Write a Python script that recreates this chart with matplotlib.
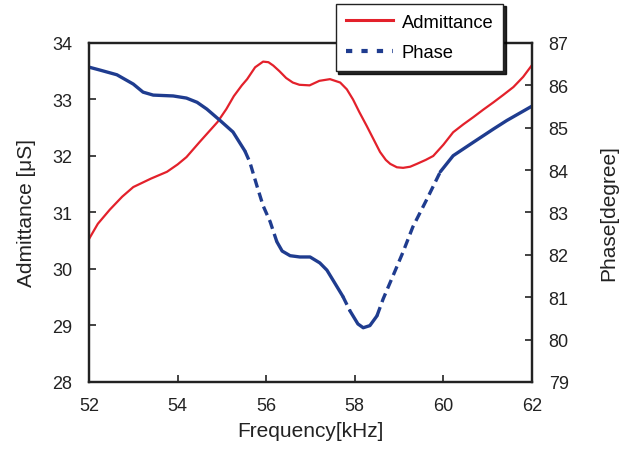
import matplotlib
matplotlib.use("Agg")
import matplotlib.pyplot as plt
from matplotlib.lines import Line2D
import numpy as np

plt.rcParams['font.family'] = ['Liberation Sans', 'DejaVu Sans']

# Admittance [uS] vs frequency [kHz]
adm_freq = [52.0, 52.2, 52.47, 52.75, 53.0, 53.4, 53.76, 54.0, 54.2, 54.5, 54.9, 55.1, 55.27,
            55.45, 55.57, 55.75, 55.93, 56.05, 56.16, 56.3, 56.45, 56.6, 56.75, 56.98,
            57.2, 57.44, 57.67, 57.82, 57.96, 58.1, 58.27, 58.42, 58.57, 58.7,
            58.8, 58.95, 59.09, 59.25, 59.4, 59.6, 59.77, 60.0, 60.22, 60.45, 60.68,
            60.9, 61.13, 61.35, 61.58, 61.8, 62.0]
adm_vals = [30.53, 30.8, 31.05, 31.28, 31.45, 31.6, 31.72, 31.85, 31.98, 32.25, 32.6, 32.83, 33.06,
            33.25, 33.36, 33.57, 33.67, 33.66, 33.6, 33.5, 33.38, 33.3, 33.26, 33.25,
            33.33, 33.36, 33.3, 33.18, 33.0, 32.78, 32.53, 32.3, 32.07, 31.93,
            31.86, 31.8, 31.79, 31.81, 31.86, 31.93, 32.0, 32.2, 32.42, 32.56, 32.69,
            32.82, 32.95, 33.08, 33.22, 33.4, 33.61]

# Phase [degree] vs frequency [kHz]
ph_freq = [52.0, 52.25, 52.63, 53.0, 53.22, 53.45, 53.9, 54.2, 54.44, 54.66, 54.96,
           55.25, 55.52, 55.63, 55.79, 55.93, 56.09, 56.24, 56.36, 56.54, 56.76, 56.99,
           57.21, 57.37, 57.51, 57.73, 57.89, 58.07, 58.19, 58.34, 58.50, 58.64,
           58.86, 59.09, 59.31, 59.63, 59.93, 60.22, 60.68, 61.13, 61.43, 62.0]
ph_vals = [86.43, 86.36, 86.25, 86.03, 85.84, 85.77, 85.75, 85.70, 85.6, 85.44, 85.17,
           84.90, 84.45, 84.19, 83.63, 83.16, 82.78, 82.31, 82.09, 81.98, 81.95, 81.95,
           81.81, 81.64, 81.40, 81.02, 80.68, 80.37, 80.28, 80.33, 80.56, 80.96,
           81.50, 82.07, 82.66, 83.32, 83.96, 84.34, 84.66, 84.97, 85.17, 85.51]

x_ticks = [52, 54, 56, 58, 60, 62]
left_ticks = [28, 29, 30, 31, 32, 33, 34]
right_ticks = [79, 80, 81, 82, 83, 84, 85, 86, 87]

RED = '#e3212b'
BLUE = '#1f3c8f'
INK = '#222222'

fig = plt.figure(figsize=(6.32, 4.52), dpi=100)
ax = fig.add_axes([0.1408, 0.1527, 0.701, 0.75])
ax2 = ax.twinx()

ax.plot(adm_freq, adm_vals, color=RED, lw=1.6, zorder=3)

# Phase: steep parts appear dashed, flat parts solid (as in source rendering)
fx = np.array(ph_freq)
fy = np.array(ph_vals)
slope = np.abs(np.diff(fy) / np.diff(fx))
steep = slope > 1.9
start = 0
for i in range(1, len(steep) + 1):
    if i == len(steep) or steep[i] != steep[start]:
        seg_x = fx[start:i + 1]
        seg_y = fy[start:i + 1]
        if steep[start]:
            ax2.plot(seg_x, seg_y, color=BLUE, lw=2.4, linestyle=(0, (2.8, 1.6)),
                     solid_capstyle='butt', dash_capstyle='butt')
        else:
            ax2.plot(seg_x, seg_y, color=BLUE, lw=2.4, solid_capstyle='round')
        start = i

ax.set_xlim(52, 62)
ax.set_ylim(28, 34)
ax2.set_ylim(79, 87)
ax.set_xticks(x_ticks)
ax.set_yticks(left_ticks)
ax2.set_yticks(right_ticks)

for a in (ax, ax2):
    for s in a.spines.values():
        s.set_linewidth(1.6)
        s.set_color(INK)
ax.tick_params(axis='both', direction='in', length=5, width=1.2, labelsize=13,
               colors=INK, pad=12)
ax.tick_params(axis='x', pad=11)
ax2.tick_params(axis='y', direction='in', length=5, width=1.2, labelsize=13,
                colors=INK, pad=12)
for lab in ax.get_xticklabels() + ax.get_yticklabels() + ax2.get_yticklabels():
    lab.set_color(INK)

ax.set_xlabel('Frequency[kHz]', fontsize=15, labelpad=5, color=INK)
ax.set_ylabel('Admittance [μS]', fontsize=15, labelpad=12, color=INK)
ax2.set_ylabel('Phase[degree]', fontsize=15, labelpad=22, color=INK)

handles = [Line2D([], [], color=RED, lw=2.2),
           Line2D([], [], color=BLUE, lw=3.0, linestyle=(0, (1.5, 2.2)))]
leg = fig.legend(handles, ['Admittance', 'Phase'], loc='upper left',
                 bbox_to_anchor=(0.531, 0.99), fontsize=13.2, frameon=True,
                 fancybox=False, shadow={'color': 'black', 'alpha': 0.85},
                 handlelength=2.6, borderpad=0.55, labelspacing=0.75,
                 handletextpad=0.45, borderaxespad=0.0)
leg._legend_box.sep = 0
leg.get_frame().set_edgecolor(INK)
leg.get_frame().set_linewidth(1.0)
leg.set_zorder(10)

fig.savefig('out.png', dpi=100)
